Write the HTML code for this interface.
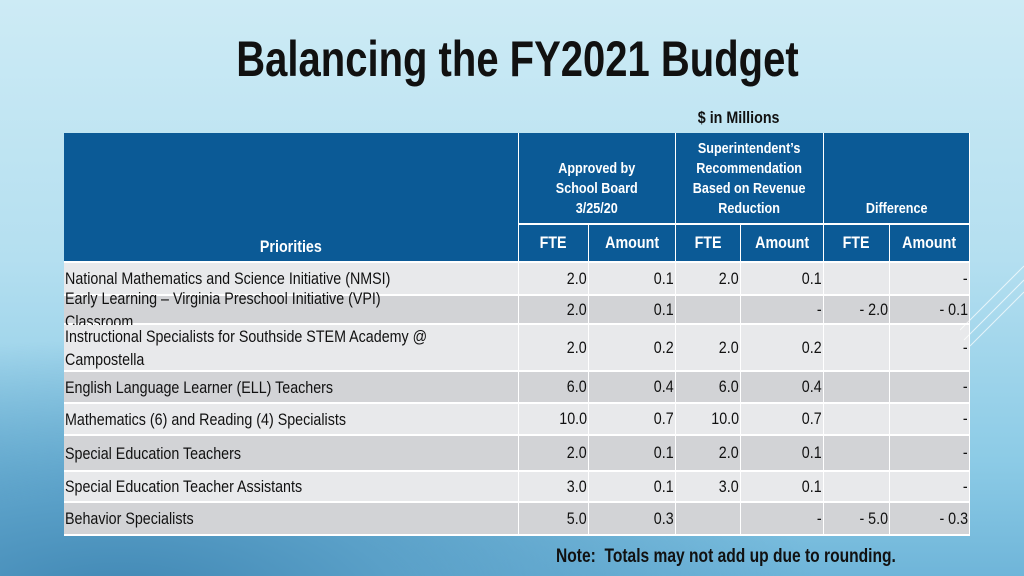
<!DOCTYPE html>
<html><head><meta charset="utf-8"><style>
html,body{margin:0;padding:0}
body{width:1024px;height:576px;overflow:hidden;position:relative;font-family:"Liberation Sans",sans-serif;
background:radial-gradient(ellipse 700px 260px at 120px 600px,#3f86b3 0%,#5aa0c8 40%,rgba(150,205,228,0) 100%),linear-gradient(180deg,#cdebf5 0%,#b4dff0 45%,#8ccbe6 80%,#6fb5d9 100%);}
.t{position:absolute;white-space:nowrap;}
.c{position:absolute;box-sizing:border-box;overflow:visible;}
.sx{display:inline-block;transform:scaleX(0.84);}
.title{left:0;width:1034px;top:30px;text-align:center;font-weight:bold;font-size:50px;color:#111;}
.hdr{background:#0b5a96;color:#fff;font-weight:bold;font-size:15px;text-align:center;}
.num{font-size:17px;color:#111;text-align:right;padding-right:1px;}
.lbl{font-size:17px;color:#111;padding-left:1px;line-height:23px;}
</style></head><body>
<div class="t title"><span class="sx" style="transform:scaleX(0.8)">Balancing the FY2021 Budget</span></div>
<div class="t" style="left:690px;top:108px;font-size:17px;font-weight:bold;color:#111;"><span class="sx">$ in Millions</span></div>
<div id="tbl"></div>
<div class="t" style="left:556px;top:546px;font-size:19px;font-weight:bold;color:#111;"><span class="sx" style="transform-origin:left;transform:scaleX(0.82)">Note:&nbsp; Totals may not add up due to rounding.</span></div>
<svg style="position:absolute;left:960px;top:260px" width="64" height="120">
<g stroke="#fff" stroke-opacity="0.7" stroke-width="1"><line x1="0" y1="70" x2="64" y2="6"/><line x1="4" y1="80" x2="64" y2="20"/><line x1="10" y1="86" x2="64" y2="32"/></g></svg>
<script>
const labels=["National Mathematics and Science Initiative (NMSI)","Early Learning – Virginia Preschool Initiative (VPI) Classroom","Instructional Specialists for Southside STEM Academy @<br>Campostella","English Language Learner (ELL) Teachers","Mathematics (6) and Reading (4) Specialists","Special Education Teachers","Special Education Teacher Assistants","Behavior Specialists"];
const approvedFte=["2.0","2.0","2.0","6.0","10.0","2.0","3.0","5.0"];
const approvedAmt=["0.1","0.1","0.2","0.4","0.7","0.1","0.1","0.3"];
const recFte=["2.0","","2.0","6.0","10.0","2.0","3.0",""];
const recAmt=["0.1","-","0.2","0.4","0.7","0.1","0.1","-"];
const diffFte=["","- 2.0","","","","","","- 5.0"];
const diffAmt=["-","- 0.1","-","-","-","-","-","- 0.3"];
const colX=[64,519,589,676,741,824,890,970];
const rowY=[263,296,325,372,404,436,472,503,536];
const tbl=document.getElementById('tbl');
function cell(x,y,w,h,cls,html,bg,align){const d=document.createElement('div');d.className='c '+cls;
d.style.left=x+'px';d.style.top=y+'px';d.style.width=w+'px';d.style.height=h+'px';
if(bg)d.style.background=bg;d.style.display='flex';d.style.alignItems=align||'center';
d.style.justifyContent=cls.includes('num')?'flex-end':(cls.includes('hdr')?'center':'flex-start');
d.style.borderRight='1px solid #fff';d.style.borderBottom='2px solid #fff';
d.innerHTML='<span class="sx" style="transform-origin:'+(cls.includes('num')?'right':(cls.includes('hdr')?'center':'left'))+'">'+html+'</span>';tbl.appendChild(d);return d;}
let d;
d=cell(64,133,455,130,'hdr','Priorities','#0b5a96','flex-end');d.style.paddingBottom='4px';d.style.fontSize='17px';


const groups=["Approved by<br>School Board<br>3/25/20","Superintendent’s<br>Recommendation<br>Based on Revenue<br>Reduction","Difference"];
for(let g=0;g<3;g++){d=cell(colX[1+2*g],133,colX[3+2*g]-colX[1+2*g],92,'hdr',groups[g],'#0b5a96','flex-end');d.style.paddingBottom='4px';d.style.lineHeight='20px';

}
for(let i=1;i<7;i++){d=cell(colX[i],225,colX[i+1]-colX[i],38,'hdr',i%2?'FTE':'Amount','#0b5a96');d.style.fontSize='17px';

}
const cols=[approvedFte,approvedAmt,recFte,recAmt,diffFte,diffAmt];
for(let r=0;r<labels.length;r++){const bg=r%2?'#d2d3d6':'#e8e9eb';const h=rowY[r+1]-rowY[r];
d=cell(64,rowY[r],455,h,'lbl',labels[r],bg);


for(let c=0;c<6;c++){d=cell(colX[c+1],rowY[r],colX[c+2]-colX[c+1],h,'num',cols[c][r],bg);

}}
</script>
</body></html>
